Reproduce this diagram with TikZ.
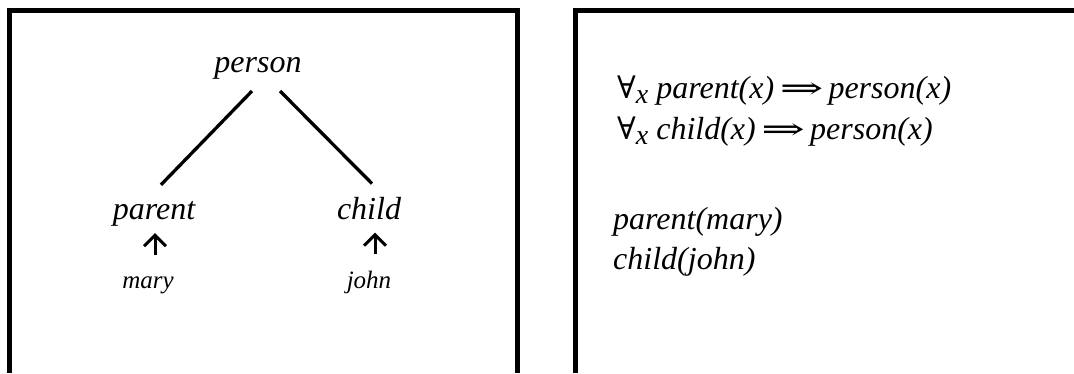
\documentclass[tikz,border=0pt]{standalone}
\usepackage{fontspec}
\usepackage{graphicx}
\setmainfont{Liberation Serif}
\newfontfamily\symf{DejaVu Serif}
\usetikzlibrary{arrows.meta}
\newcommand{\fa}{{\upshape\symf\fontsize{31}{30}\selectfont ∀}\raisebox{-5pt}{\fontsize{28}{30}\selectfont x}}
\newcommand{\impl}{\,{\upshape\symf\fontsize{30}{30}\selectfont\scalebox{1.75}[1]{⇒}}\hspace{5pt}}
\begin{document}
\begin{tikzpicture}[x=1pt,y=-1pt,
  frame/.style={line width=5pt, line join=miter, line cap=butt},
  big/.style={font=\fontsize{32}{38}\selectfont\itshape, inner sep=0pt, anchor=base},
  small/.style={font=\fontsize{25}{30}\selectfont\itshape, inner sep=0pt, anchor=base},
  edge/.style={line width=3.3pt},
  up/.style={line width=3pt, -{Straight Barb[length=11pt,width=22pt]}},
  rule/.style={font=\fontsize{32}{38}\selectfont\itshape, inner sep=0pt, anchor=base west}]
\useasboundingbox (0,0) rectangle (1074,373);
% frames
\draw[frame] (9.5,373) -- (9.5,10) -- (517,10) -- (517,373);
\draw[frame] (575.5,373) -- (575.5,10) -- (1074,10);
% left: hierarchy
\node[big] (person) at (258,72) {person};
\node[big] (parent) at (154,219) {parent};
\node[big] (child) at (369,219) {child};
\node[small] (mary) at (148,288) {mary};
\node[small] (john) at (369,288) {john};
\draw[edge] ([xshift=-6pt,yshift=-12pt]person.south) -- ([xshift=7pt,yshift=16pt]parent.north);
\draw[edge] ([xshift=22pt,yshift=-12pt]person.south) -- ([xshift=3pt,yshift=13pt]child.north);
\draw[up] ([xshift=7pt,yshift=21pt]mary.north) -- ([xshift=1pt,yshift=-7pt]parent.south);
\draw[up] ([xshift=6pt,yshift=16pt]john.north) -- ([xshift=6pt,yshift=-13pt]child.south);
% right: logic
\node[rule] (r1) at (617,98) {\fa\ parent(x)\impl person(x)};
\node[rule] (r2) at (617,139) {\fa\ child(x)\impl person(x)};
\node[rule] (r3) at (613,229) {parent(mary)};
\node[rule] (r4) at (613,269) {child(john)};
\end{tikzpicture}
\end{document}
